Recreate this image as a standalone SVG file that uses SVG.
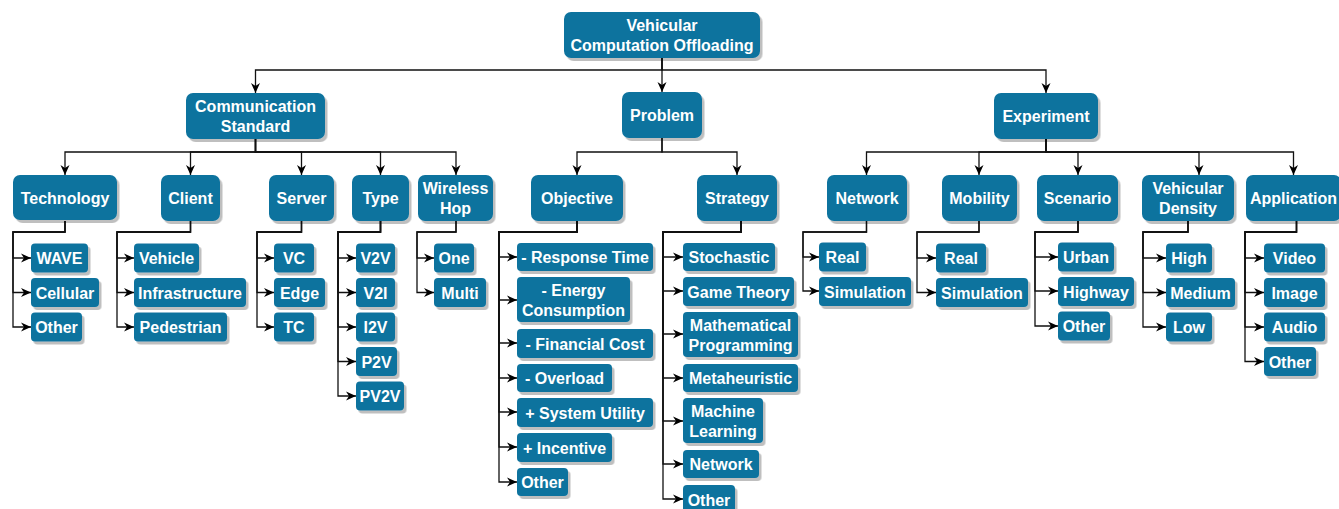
<svg xmlns="http://www.w3.org/2000/svg" width="1339" height="509" viewBox="0 0 1339 509">
<style>
.n{fill:#10739E;filter:url(#sh)}
.t{fill:#fff;font-family:"Liberation Sans",Arial,Helvetica,sans-serif;font-weight:bold;font-size:16px;text-anchor:middle}
.c path{fill:none;stroke:#111;stroke-width:1.3;marker-end:url(#ar)}
</style>
<defs>
<filter id="sh" x="-10%" y="-10%" width="130%" height="140%">
<feDropShadow dx="2.5" dy="3" stdDeviation="0.6" flood-color="#000" flood-opacity="0.25"/>
</filter>
<marker id="ar" markerUnits="userSpaceOnUse" markerWidth="11" markerHeight="11" refX="10" refY="5" orient="auto">
<path d="M0,0.5 L10,5 L0,9.5 L3,5 Z" fill="#000"/>
</marker>
</defs>
<g id="connectors" class="c">
<path d="M662,58V70H255.5V93"/>
<path d="M662,58V92"/>
<path d="M662,58V70H1046V93"/>
<path d="M255.5,139V152H65V175"/>
<path d="M255.5,139V152H190.5V175"/>
<path d="M255.5,139V152H301.5V175"/>
<path d="M255.5,139V152H380.5V175"/>
<path d="M255.5,139V152H456V175"/>
<path d="M662,138V152H577V175"/>
<path d="M662,138V152H737V175"/>
<path d="M1046,139V152H866.5V175"/>
<path d="M1046,139V152H979V175"/>
<path d="M1046,139V152H1078V175"/>
<path d="M1046,139V152H1199V175"/>
<path d="M1046,139V152H1293.5V175"/>
<path d="M65,221V232H13V258H31"/>
<path d="M65,221V232H13V292.5H31"/>
<path d="M65,221V232H13V327H31"/>
<path d="M190.5,221V232H117V258H134"/>
<path d="M190.5,221V232H117V292.5H134"/>
<path d="M190.5,221V232H117V327H134"/>
<path d="M301.5,221V232H257V258H274"/>
<path d="M301.5,221V232H257V292.5H274"/>
<path d="M301.5,221V232H257V327H274"/>
<path d="M380.5,221V232H338V258H356"/>
<path d="M380.5,221V232H338V292.5H356"/>
<path d="M380.5,221V232H338V327H356"/>
<path d="M380.5,221V232H338V361.5H356"/>
<path d="M380.5,221V232H338V396H356"/>
<path d="M456,221V232H417V258H434"/>
<path d="M456,221V232H417V292.5H434"/>
<path d="M577,221V232H499V257H517"/>
<path d="M577,221V232H499V300H517"/>
<path d="M577,221V232H499V343H517"/>
<path d="M577,221V232H499V378H517"/>
<path d="M577,221V232H499V412H517"/>
<path d="M577,221V232H499V447H517"/>
<path d="M577,221V232H499V482H517"/>
<path d="M741,221V232H663V257H683"/>
<path d="M741,221V232H663V291H683"/>
<path d="M741,221V232H663V334H683"/>
<path d="M741,221V232H663V378H683"/>
<path d="M741,221V232H663V421H683"/>
<path d="M741,221V232H663V464H683"/>
<path d="M741,221V232H663V499H683"/>
<path d="M866.5,221V232H803V257H819"/>
<path d="M866.5,221V232H803V291H819"/>
<path d="M979,221V232H917V258H936"/>
<path d="M979,221V232H917V292.5H936"/>
<path d="M1078,221V232H1035V257H1058"/>
<path d="M1078,221V232H1035V291H1058"/>
<path d="M1078,221V232H1035V326H1058"/>
<path d="M1188,221V232H1143V258H1166"/>
<path d="M1188,221V232H1143V292.5H1166"/>
<path d="M1188,221V232H1143V327H1166"/>
<path d="M1296.5,221V232H1245V258H1264"/>
<path d="M1296.5,221V232H1245V292.5H1264"/>
<path d="M1296.5,221V232H1245V327H1264"/>
<path d="M1296.5,221V232H1245V361.5H1264"/>
</g>

<g id="root"><rect class="n" x="564" y="12" width="196" height="46" rx="7"/><text class="t" x="662" y="31.3">Vehicular</text><text class="t" x="662" y="50.8">Computation Offloading</text></g>

<g id="comm"><rect class="n" x="186" y="93" width="139" height="46" rx="7"/><text class="t" x="255.5" y="112.3">Communication</text><text class="t" x="255.5" y="131.8">Standard</text></g>
<g id="problem"><rect class="n" x="622" y="92" width="80" height="46" rx="7"/><text class="t" x="662" y="121">Problem</text></g>
<g id="experiment"><rect class="n" x="994" y="93" width="104" height="46" rx="7"/><text class="t" x="1046" y="122">Experiment</text></g>

<g id="technology"><rect class="n" x="13" y="175" width="104" height="45" rx="7"/><text class="t" x="65" y="203.5">Technology</text></g>
<g id="client"><rect class="n" x="161" y="175" width="59" height="46" rx="7"/><text class="t" x="190.5" y="204">Client</text></g>
<g id="server"><rect class="n" x="269" y="175" width="65" height="46" rx="7"/><text class="t" x="301.5" y="204">Server</text></g>
<g id="type"><rect class="n" x="352" y="175" width="57" height="46" rx="7"/><text class="t" x="380.5" y="204">Type</text></g>
<g id="wirelesshop"><rect class="n" x="418" y="175" width="75" height="46" rx="7"/><text class="t" x="455.5" y="194.3">Wireless</text><text class="t" x="455.5" y="213.8">Hop</text></g>
<g id="objective"><rect class="n" x="531" y="175" width="92" height="46" rx="7"/><text class="t" x="577" y="204">Objective</text></g>
<g id="strategy"><rect class="n" x="697" y="175" width="80" height="46" rx="7"/><text class="t" x="737" y="204">Strategy</text></g>
<g id="network"><rect class="n" x="827" y="175" width="80" height="46" rx="7"/><text class="t" x="867" y="204">Network</text></g>
<g id="mobility"><rect class="n" x="942" y="175" width="75" height="46" rx="7"/><text class="t" x="979.5" y="204">Mobility</text></g>
<g id="scenario"><rect class="n" x="1037" y="175" width="81" height="46" rx="7"/><text class="t" x="1077.5" y="204">Scenario</text></g>
<g id="vdensity"><rect class="n" x="1142" y="175" width="92" height="46" rx="7"/><text class="t" x="1188" y="194.3">Vehicular</text><text class="t" x="1188" y="213.8">Density</text></g>
<g id="application"><rect class="n" x="1246" y="175" width="95" height="46" rx="7"/><text class="t" x="1293.5" y="204">Application</text></g>

<g id="t-wave"><rect class="n" x="31" y="243.5" width="57" height="29" rx="4"/><text class="t" x="59.5" y="264">WAVE</text></g>
<g id="t-cellular"><rect class="n" x="31" y="278" width="68" height="29" rx="4"/><text class="t" x="65" y="298.5">Cellular</text></g>
<g id="t-other"><rect class="n" x="31" y="312.5" width="51" height="29" rx="4"/><text class="t" x="56.5" y="333">Other</text></g>

<g id="c-vehicle"><rect class="n" x="134" y="243.5" width="65" height="29" rx="4"/><text class="t" x="166.5" y="264">Vehicle</text></g>
<g id="c-infra"><rect class="n" x="134" y="278" width="112" height="29" rx="4"/><text class="t" x="190" y="298.5">Infrastructure</text></g>
<g id="c-ped"><rect class="n" x="134" y="312.5" width="93" height="29" rx="4"/><text class="t" x="180.5" y="333">Pedestrian</text></g>

<g id="s-vc"><rect class="n" x="274" y="243.5" width="40" height="29" rx="4"/><text class="t" x="294" y="264">VC</text></g>
<g id="s-edge"><rect class="n" x="274" y="278" width="51" height="29" rx="4"/><text class="t" x="299.5" y="298.5">Edge</text></g>
<g id="s-tc"><rect class="n" x="274" y="312.5" width="40" height="29" rx="4"/><text class="t" x="294" y="333">TC</text></g>

<g id="y-v2v"><rect class="n" x="356" y="243.5" width="39" height="29" rx="4"/><text class="t" x="375.5" y="264">V2V</text></g>
<g id="y-v2i"><rect class="n" x="356" y="278" width="39" height="29" rx="4"/><text class="t" x="375.5" y="298.5">V2I</text></g>
<g id="y-i2v"><rect class="n" x="356" y="312.5" width="39" height="29" rx="4"/><text class="t" x="375.5" y="333">I2V</text></g>
<g id="y-p2v"><rect class="n" x="356" y="347" width="41" height="29" rx="4"/><text class="t" x="376.5" y="367.5">P2V</text></g>
<g id="y-pv2v"><rect class="n" x="356" y="381.5" width="48" height="29" rx="4"/><text class="t" x="380" y="402">PV2V</text></g>

<g id="w-one"><rect class="n" x="434" y="243.5" width="40" height="29" rx="4"/><text class="t" x="454" y="264">One</text></g>
<g id="w-multi"><rect class="n" x="434" y="278" width="52" height="29" rx="4"/><text class="t" x="460" y="298.5">Multi</text></g>

<g id="o-resp"><rect class="n" x="517" y="243" width="136" height="28" rx="4"/><text class="t" x="585" y="263">- Response Time</text></g>
<g id="o-energy"><rect class="n" x="517" y="277" width="113" height="45" rx="4"/><text class="t" x="573.5" y="296">- Energy</text><text class="t" x="573.5" y="315.5">Consumption</text></g>
<g id="o-fin"><rect class="n" x="517" y="329" width="136" height="29" rx="4"/><text class="t" x="585" y="349.5">- Financial Cost</text></g>
<g id="o-over"><rect class="n" x="517" y="364" width="95" height="28" rx="4"/><text class="t" x="564.5" y="384">- Overload</text></g>
<g id="o-util"><rect class="n" x="517" y="398" width="136" height="29" rx="4"/><text class="t" x="585" y="418.5">+ System Utility</text></g>
<g id="o-inc"><rect class="n" x="517" y="433" width="95" height="29" rx="4"/><text class="t" x="564.5" y="453.5">+ Incentive</text></g>
<g id="o-other"><rect class="n" x="517" y="468" width="51" height="28" rx="4"/><text class="t" x="542.5" y="488">Other</text></g>

<g id="g-stoch"><rect class="n" x="683" y="243" width="92" height="28" rx="4"/><text class="t" x="729" y="263">Stochastic</text></g>
<g id="g-game"><rect class="n" x="683" y="277" width="111" height="29" rx="4"/><text class="t" x="738.5" y="297.5">Game Theory</text></g>
<g id="g-math"><rect class="n" x="683" y="312" width="115" height="45" rx="4"/><text class="t" x="740.5" y="331">Mathematical</text><text class="t" x="740.5" y="350.5">Programming</text></g>
<g id="g-meta"><rect class="n" x="683" y="364" width="115" height="28" rx="4"/><text class="t" x="740.5" y="384">Metaheuristic</text></g>
<g id="g-ml"><rect class="n" x="683" y="398" width="80" height="45" rx="4"/><text class="t" x="723" y="417">Machine</text><text class="t" x="723" y="436.5">Learning</text></g>
<g id="g-net"><rect class="n" x="683" y="450" width="76" height="28" rx="4"/><text class="t" x="721" y="470">Network</text></g>
<g id="g-other"><rect class="n" x="683" y="485" width="52" height="29" rx="4"/><text class="t" x="709" y="505.5">Other</text></g>

<g id="n-real"><rect class="n" x="819" y="242.5" width="47" height="29" rx="4"/><text class="t" x="842.5" y="263">Real</text></g>
<g id="n-sim"><rect class="n" x="819" y="277" width="92" height="29" rx="4"/><text class="t" x="865" y="297.5">Simulation</text></g>

<g id="m-real"><rect class="n" x="936" y="243.5" width="50" height="29" rx="4"/><text class="t" x="961" y="264">Real</text></g>
<g id="m-sim"><rect class="n" x="936" y="278" width="92" height="29" rx="4"/><text class="t" x="982" y="298.5">Simulation</text></g>

<g id="sc-urban"><rect class="n" x="1058" y="242.5" width="56" height="29" rx="4"/><text class="t" x="1086" y="263">Urban</text></g>
<g id="sc-highway"><rect class="n" x="1058" y="277" width="76" height="29" rx="4"/><text class="t" x="1096" y="297.5">Highway</text></g>
<g id="sc-other"><rect class="n" x="1058" y="311.5" width="52" height="29" rx="4"/><text class="t" x="1084" y="332">Other</text></g>

<g id="d-high"><rect class="n" x="1166" y="243.5" width="46" height="29" rx="4"/><text class="t" x="1189" y="264">High</text></g>
<g id="d-medium"><rect class="n" x="1166" y="278" width="69" height="29" rx="4"/><text class="t" x="1200.5" y="298.5">Medium</text></g>
<g id="d-low"><rect class="n" x="1166" y="312.5" width="46" height="29" rx="4"/><text class="t" x="1189" y="333">Low</text></g>

<g id="a-video"><rect class="n" x="1264" y="243.5" width="61" height="29" rx="4"/><text class="t" x="1294.5" y="264">Video</text></g>
<g id="a-image"><rect class="n" x="1264" y="278" width="61" height="29" rx="4"/><text class="t" x="1294.5" y="298.5">Image</text></g>
<g id="a-audio"><rect class="n" x="1264" y="312.5" width="61" height="29" rx="4"/><text class="t" x="1294.5" y="333">Audio</text></g>
<g id="a-other"><rect class="n" x="1264" y="347" width="52" height="29" rx="4"/><text class="t" x="1290" y="367.5">Other</text></g>
</svg>
